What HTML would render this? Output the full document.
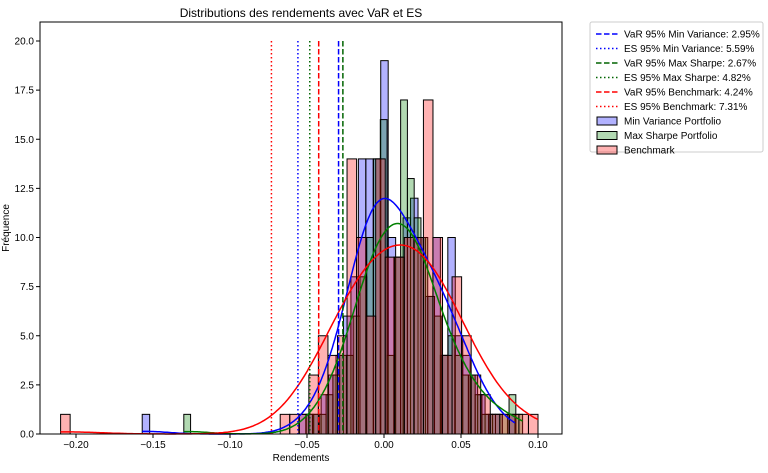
<!DOCTYPE html>
<html><head><meta charset="utf-8"><style>
body{margin:0;background:#fff;font-family:"Liberation Sans",sans-serif;}
svg text{font-family:"Liberation Sans",sans-serif;}
</style></head><body>
<svg id="chart" width="768" height="468" xmlns="http://www.w3.org/2000/svg">
<rect width="768" height="468" fill="#fff"/>
<text x="301" y="17" font-size="12" text-anchor="middle">Distributions des rendements avec VaR et ES</text>
<text x="301" y="461" font-size="10" text-anchor="middle">Rendements</text>
<text x="9" y="228" font-size="10" text-anchor="middle" transform="rotate(-90 9 228)">Fréquence</text>
<g id="plot"></g>
<g id="legend"></g>
</svg>
<script>
const xTicks=[-0.20,-0.15,-0.10,-0.05,0.00,0.05,0.10];
const yTicks=[0,2.5,5,7.5,10,12.5,15,17.5,20];
const seriesNames=["Min Variance Portfolio","Max Sharpe Portfolio","Benchmark"];
const binStarts=[-0.157,-0.13,-0.21];
const binWidths=[0.00484,0.0044,0.0062];
const minVarCounts=[1,0,0,0,0,0,0,0,0,0,0,0,0,0,0,0,0,0,0,0,0,1,1,1,2,3,4,6,8,14,14,14,19,10,9,11,12,10,7,10,4,10,5,4,3,2,1,1,0,1];
const maxSharpeCounts=[1,0,0,0,0,0,0,0,0,0,0,0,0,0,0,0,0,0,1,1,1,2,3,4,4,6,8,10,14,16,4,9,17,13,11,10,7,6,4,5,4,3,3,2,1,1,1,1,2,1];
const benchCounts=[1,0,0,0,0,0,0,0,0,0,0,0,0,0,0,0,0,0,0,0,0,0,0,1,1,1,3,5,4,5,14,10,6,14,9,9,10,10,17,10,4,8,5,3,2,1,1,1,1,1];
const varLabels=["VaR 95% Min Variance: 2.95%","ES 95% Min Variance: 5.59%","VaR 95% Max Sharpe: 2.67%","ES 95% Max Sharpe: 4.82%","VaR 95% Benchmark: 4.24%","ES 95% Benchmark: 7.31%"];
const varValues=[-0.0295,-0.0559,-0.0267,-0.0482,-0.0424,-0.0731];

const NS="http://www.w3.org/2000/svg";
const L=40,R=562,T=22,B=434;
const X=v=>384+v*1540;
const Y=v=>434-v*19.65;
const plot=document.getElementById('plot');
function mk(tag,attrs,parent){const e=document.createElementNS(NS,tag);for(const k in attrs)e.setAttribute(k,attrs[k]);(parent||plot).appendChild(e);return e;}
const fills=["rgba(0,0,255,0.3)","rgba(0,128,0,0.3)","rgba(255,0,0,0.3)"];
const lineCols=["#0000ff","#008000","#ff0000"];
const allCounts=[minVarCounts,maxSharpeCounts,benchCounts];
const keys=["min-variance","max-sharpe","benchmark"];
const bwFactor=[1.45,1.4,1.75];
allCounts.forEach((cs,s)=>{
  cs.forEach((c,i)=>{
    if(c<=0)return;
    const x0=binStarts[s]+i*binWidths[s];
    const r=mk('rect',{x:X(x0),y:Y(c),width:X(x0+binWidths[s])-X(x0),height:Y(0)-Y(c),fill:fills[s],stroke:"#000","stroke-width":1});
    
    
  });
});
allCounts.forEach((cs,s)=>{
  let n=0,m=0;cs.forEach((c,i)=>{n+=c;m+=c*(binStarts[s]+(i+0.5)*binWidths[s]);});m/=n;
  let v=0;cs.forEach((c,i)=>{const x=binStarts[s]+(i+0.5)*binWidths[s];v+=c*(x-m)*(x-m);});v/=(n-1);
  const h=Math.sqrt(v)*Math.pow(n,-0.2)*bwFactor[s];
  const lo=binStarts[s],hi=binStarts[s]+cs.length*binWidths[s];
  let d="";
  for(let k=0;k<=300;k++){const x=lo+(hi-lo)*k/300;let f=0;
    cs.forEach((c,i)=>{const xc=binStarts[s]+(i+0.5)*binWidths[s];const z=(x-xc)/h;f+=c*Math.exp(-0.5*z*z);});
    f=f/(h*Math.sqrt(2*Math.PI))*binWidths[s];
    d+=(k?"L":"M")+X(x).toFixed(1)+","+Y(f).toFixed(1);}
  const p=mk('path',{d:d,fill:"none",stroke:lineCols[s],"stroke-width":1.5});
  
  
});
const vCols=["#0000ff","#0000ff","#006400","#006400","#ff0000","#ff0000"];
varValues.forEach((v,i)=>{
  const ln=mk('line',{x1:X(v),x2:X(v),y1:Y(20),y2:B,stroke:vCols[i],"stroke-width":1.5,"stroke-dasharray":i%2?"1.5,2.5":"5.5,2.5"});
  
  
});
mk('rect',{x:L,y:T,width:R-L,height:B-T,fill:"none",stroke:"#000","stroke-width":1});
xTicks.forEach(t=>{
  mk('line',{x1:X(t),x2:X(t),y1:B,y2:B+4,stroke:"#000"});
  const tx=mk('text',{x:X(t),y:B+14,"font-size":10,"text-anchor":"middle"});tx.textContent=t.toFixed(2).replace("-","−");
  
  
});
yTicks.forEach(t=>{
  mk('line',{x1:L-4,x2:L,y1:Y(t),y2:Y(t),stroke:"#000"});
  const tx=mk('text',{x:L-6,y:Y(t)+3.5,"font-size":10,"text-anchor":"end"});tx.textContent=t.toFixed(1);
  
  
});
const lg=document.getElementById('legend');
mk('rect',{x:590,y:22,width:173,height:130,fill:"#fff",stroke:"#ccc",rx:2},lg);
varLabels.forEach((lab,i)=>{
  const y=34+i*14.5;
  mk('line',{x1:596,x2:618,y1:y,y2:y,stroke:vCols[i],"stroke-width":1.5,"stroke-dasharray":i%2?"1.5,2.5":"5.5,2.5"},lg);
  const t=mk('text',{x:624,y:y+3.5,"font-size":10},lg);t.textContent=lab;
  
  
});
seriesNames.forEach((lab,i)=>{
  const y=34+(6+i)*14.5;
  mk('rect',{x:597,y:y-4,width:20,height:8,fill:fills[i],stroke:"#000"},lg);
  const t=mk('text',{x:624,y:y+3.5,"font-size":10},lg);t.textContent=lab;
  
  
});
</script>
</body></html>
